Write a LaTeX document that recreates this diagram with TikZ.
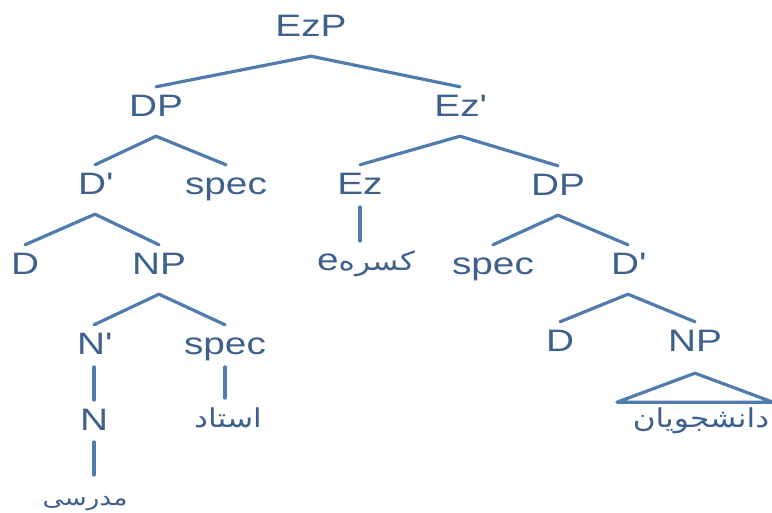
\documentclass[tikz,border=0pt]{standalone}
\usepackage{fontspec}
\setmainfont{Liberation Sans}[FakeStretch=1.25]
\newfontfamily\farsi[Script=Arabic,FakeStretch=1.2]{DejaVu Sans}
\TeXXeTstate=1
\usetikzlibrary{calc}
\definecolor{treeblue}{RGB}{62,96,140}
\definecolor{branchblue}{RGB}{79,124,172}
\tikzset{
  cat/.style={anchor=base, inner sep=0pt, text height=30pt, text depth=19pt,
    text=treeblue, font=\fontsize{31}{36}\selectfont},
  word/.style={anchor=base, inner sep=0pt, text=treeblue,
    font=\farsi\fontsize{26}{30}\selectfont},
  branch/.style={draw=branchblue, line width=3.2pt, line cap=round},
  unary/.style={branch, shorten <=12pt, shorten >=30pt}
}

\begin{document}
\begin{tikzpicture}[x=1pt,y=-1pt]
\useasboundingbox (0,0) rectangle (772,513);

% categories
\node [cat] (ezp) at (311,37) {EzP};
\node [cat] (dp) at (156,117) {DP};
\node [cat] (ezbar) at (460,117) {Ez\textquotesingle};
\node [cat] (dbar) at (95,195) {D\textquotesingle};
\node [cat] (spec1) at (226,195) {spec};
\node [cat] (ez) at (360,195) {Ez};
\node [cat] (dp2) at (558,196) {DP};
\node [cat] (d) at (25,275) {D};
\node [cat] (np) at (159,275) {NP};
\node [cat] (spec2) at (493,275) {spec};
\node [cat] (dbar2) at (628,275) {D\textquotesingle};
\node [cat] (nbar) at (94,355) {N\textquotesingle};
\node [cat] (spec3) at (225,355) {spec};
\node [cat] (d2) at (560,352) {D};
\node [cat] (np2) at (695,352) {NP};
\node [cat] (n) at (94,430) {N};

% words
\node [anchor=base, inner sep=0pt, text=treeblue, font=\fontsize{31}{36}\selectfont]
  (kasre) at (366,271) {e{\farsi\fontsize{26}{30}\selectfont\beginR کسره\endR}};
\node [word] (ostad) at (228,428) {\beginR استاد\endR};
\node [word, font=\farsi\fontsize{22}{26}\selectfont] (modarresi) at (85,505) {\beginR مدرسی\endR};
\node [word] (daneshjuyan) at (701,428) {\beginR دانشجویان\endR};

% branches
\draw [branch] (ezp.south) -- (dp.north);
\draw [branch] (ezp.south) -- (ezbar.north);
\draw [branch] (dp.south) -- (dbar.north);
\draw [branch] (dp.south) -- (spec1.north);
\draw [branch] (ezbar.south) -- (ez.north);
\draw [branch] (ezbar.south) -- (dp2.north);
\draw [branch] (dbar.south) -- (d.north);
\draw [branch] (dbar.south) -- (np.north);
\draw [branch] (dp2.south) -- (spec2.north);
\draw [branch] (dp2.south) -- (dbar2.north);
\draw [branch] (np.south) -- (nbar.north);
\draw [branch] (np.south) -- (spec3.north);
\draw [branch] (dbar2.south) -- (d2.north);
\draw [branch] (dbar2.south) -- (np2.north);

% unary branches
\draw [unary] (ez.base) -- (ez.base |- kasre.base);
\draw [unary] (nbar.base) -- (nbar.base |- n.base);
\draw [unary] (spec3.base) -- (spec3.base |- ostad.base);
\draw [unary] (n.base) -- (n.base |- modarresi.base);

% triangle
\draw [branch, line join=round] (np2.south) ++(0,2) -- ++(-78,29) -- ++(156,0) -- cycle;
\end{tikzpicture}
\end{document}
